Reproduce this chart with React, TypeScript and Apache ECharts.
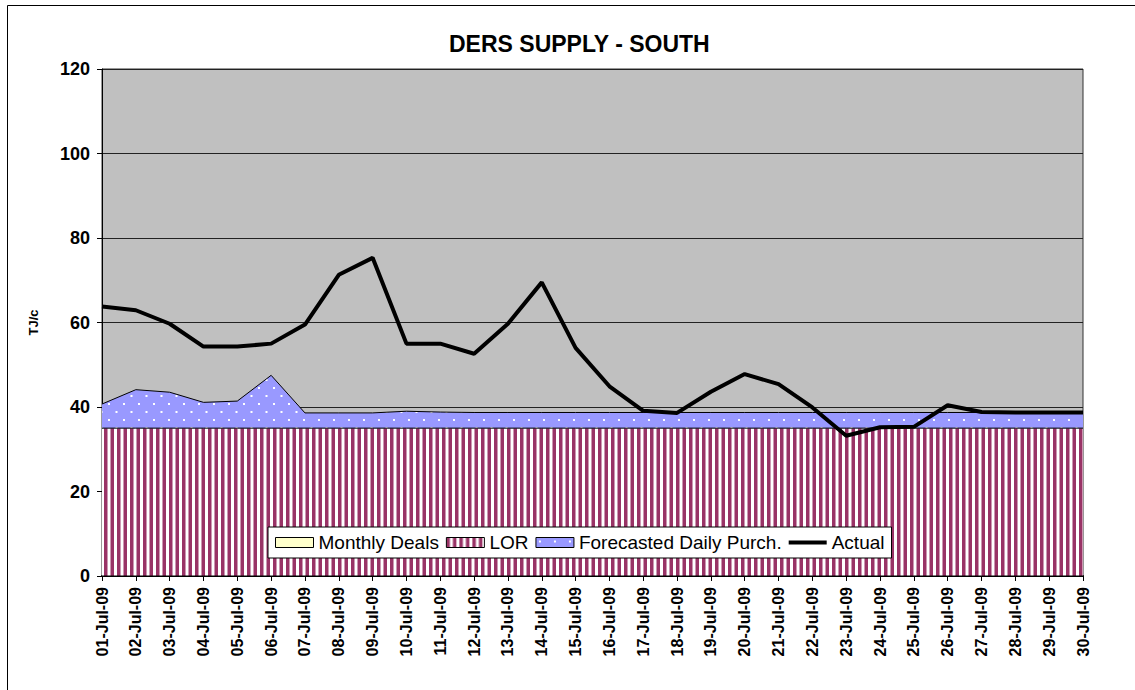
import React, { useEffect, useRef } from 'react';
import * as echarts from 'echarts';

const categories = [
  '01-Jul-09', '02-Jul-09', '03-Jul-09', '04-Jul-09', '05-Jul-09', '06-Jul-09',
  '07-Jul-09', '08-Jul-09', '09-Jul-09', '10-Jul-09', '11-Jul-09', '12-Jul-09',
  '13-Jul-09', '14-Jul-09', '15-Jul-09', '16-Jul-09', '17-Jul-09', '18-Jul-09',
  '19-Jul-09', '20-Jul-09', '21-Jul-09', '22-Jul-09', '23-Jul-09', '24-Jul-09',
  '25-Jul-09', '26-Jul-09', '27-Jul-09', '28-Jul-09', '29-Jul-09', '30-Jul-09',
];

const monthlyDeals = [0, 0, 0, 0, 0, 0, 0, 0, 0, 0, 0, 0, 0, 0, 0, 0, 0, 0, 0, 0, 0, 0, 0, 0, 0, 0, 0, 0, 0, 0];
const lor = [35, 35, 35, 35, 35, 35, 35, 35, 35, 35, 35, 35, 35, 35, 35, 35, 35, 35, 35, 35, 35, 35, 35, 35, 35, 35, 35, 35, 35, 35];
const forecasted = [5.7, 9.1, 8.5, 6.1, 6.4, 12.5, 3.6, 3.6, 3.6, 4.0, 3.8, 3.7, 3.7, 3.7, 3.7, 3.7, 3.7, 3.7, 3.7, 3.7, 3.7, 3.7, 3.7, 3.7, 3.7, 3.7, 3.7, 3.7, 3.7, 3.7];
const actual = [63.8, 62.9, 59.7, 54.3, 54.3, 55.0, 59.5, 71.3, 75.3, 55.0, 55.0, 52.6, 59.7, 69.5, 54.0, 44.9, 39.1, 38.6, 43.6, 47.8, 45.4, 39.9, 33.2, 35.2, 35.3, 40.4, 38.8, 38.7, 38.7, 38.7];

const seriesNames = ['Monthly Deals', 'LOR', 'Forecasted Daily Purch.', 'Actual'];
const yTicks = { min: 0, max: 120, interval: 20 };

const FONT = "'Liberation Sans', Arial, sans-serif";

function makeStripes() {
  const c = document.createElement('canvas');
  c.width = 13;
  c.height = 8;
  const ctx = c.getContext('2d')!;
  ctx.fillStyle = '#ffffff';
  ctx.fillRect(0, 0, 13, 8);
  ctx.fillStyle = '#993366';
  ctx.fillRect(0, 0, 3.5, 8);
  ctx.fillRect(6.5, 0, 3.5, 8);
  return { image: c, repeat: 'repeat', imageWidth: 13, imageHeight: 8 };
}

function makeDots() {
  const c = document.createElement('canvas');
  c.width = 15;
  c.height = 16;
  const ctx = c.getContext('2d')!;
  ctx.fillStyle = '#9999FF';
  ctx.fillRect(0, 0, 15, 16);
  ctx.fillStyle = '#ffffff';
  ctx.fillRect(3, 3, 2, 2);
  ctx.fillRect(10.5, 11, 2, 2);
  return { image: c, repeat: 'repeat', imageWidth: 15, imageHeight: 16 };
}

export default function App() {
  const ref = useRef<HTMLDivElement>(null);

  useEffect(() => {
    if (!ref.current) return;
    const chart = echarts.init(ref.current, null, { renderer: 'svg' });
    const stripes = makeStripes();
    const dots = makeDots();

    const option: any = {
      animation: false,
      backgroundColor: '#ffffff',
      textStyle: { fontFamily: FONT },
      title: {
        text: 'DERS SUPPLY - SOUTH',
        left: 444,
        top: 27,
        textStyle: { fontFamily: FONT, fontSize: 23, fontWeight: 'bold', color: '#000' },
      },
      graphic: [
        {
          type: 'rect',
          shape: { x: 7.5, y: 5.5, width: 1150, height: 700 },
          style: { fill: 'none', stroke: '#000', lineWidth: 1 },
          silent: true,
        },
      ],
      grid: {
        left: 102,
        right: 52,
        top: 69,
        bottom: 114,
        show: true,
        backgroundColor: '#C0C0C0',
        borderColor: '#333',
        borderWidth: 1,
      },
      legend: {
        left: 268,
        top: 527,
        padding: [6, 7, 6, 7],
        itemGap: 7,
        itemWidth: 38,
        itemHeight: 10,
        backgroundColor: '#ffffff',
        borderColor: '#000',
        borderWidth: 1,
        borderRadius: 0,
        textStyle: { fontFamily: FONT, fontSize: 19, color: '#000' },
        data: [
          { name: seriesNames[0], icon: 'rect', itemStyle: { color: '#FFFFCC', borderColor: '#000', borderWidth: 1 } },
          { name: seriesNames[1], icon: 'rect', itemStyle: { color: stripes, borderColor: '#000', borderWidth: 1 } },
          { name: seriesNames[2], icon: 'rect', itemStyle: { color: dots, borderColor: '#000', borderWidth: 1 } },
          { name: seriesNames[3], icon: 'path://M0,0 L38,0 L38,4 L0,4 Z', itemStyle: { color: '#000', borderWidth: 0 } },
        ],
      },
      xAxis: {
        type: 'category',
        data: categories,
        boundaryGap: false,
        axisLine: { show: true, lineStyle: { color: '#000', width: 2 } },
        axisTick: { show: true, length: 5, interval: 0, lineStyle: { color: '#000', width: 1 } },
        axisLabel: {
          rotate: 90,
          interval: 0,
          margin: 11,
          fontFamily: FONT,
          fontSize: 16,
          fontWeight: 'bold',
          color: '#000',
        },
        splitLine: { show: false },
      },
      yAxis: {
        type: 'value',
        min: yTicks.min,
        max: yTicks.max,
        interval: yTicks.interval,
        name: 'TJ/c',
        nameLocation: 'middle',
        nameGap: 62,
        nameTextStyle: { fontFamily: FONT, fontSize: 13, fontWeight: 'bold', color: '#000' },
        axisLine: { show: true, lineStyle: { color: '#000', width: 1 } },
        axisTick: { show: true, length: 5, lineStyle: { color: '#000', width: 1 } },
        axisLabel: { margin: 12, fontFamily: FONT, fontSize: 18, fontWeight: 'bold', color: '#000' },
        splitLine: { show: true, lineStyle: { color: '#222', width: 1 } },
      },
      series: [
        {
          name: seriesNames[0],
          type: 'line',
          stack: 'supply',
          data: monthlyDeals,
          symbol: 'none',
          itemStyle: { color: '#FFFFCC' },
          lineStyle: { color: '#000', width: 1 },
          areaStyle: { color: '#FFFFCC', opacity: 1 },
          z: 2,
        },
        {
          name: seriesNames[1],
          type: 'line',
          stack: 'supply',
          data: lor,
          symbol: 'none',
          itemStyle: { color: '#993366' },
          lineStyle: { color: '#000', width: 1 },
          areaStyle: { color: stripes, opacity: 1 },
          z: 2,
        },
        {
          name: seriesNames[2],
          type: 'line',
          stack: 'supply',
          data: forecasted,
          symbol: 'none',
          itemStyle: { color: '#9999FF' },
          lineStyle: { color: '#000', width: 1 },
          areaStyle: { color: dots, opacity: 1 },
          z: 2,
        },
        {
          name: seriesNames[3],
          type: 'line',
          data: actual,
          symbol: 'none',
          itemStyle: { color: '#000' },
          lineStyle: { color: '#000', width: 4 },
          z: 5,
        },
      ],
    };

    chart.setOption(option);
    return () => {
      chart.dispose();
    };
  }, []);

  return (
    <div
      ref={ref}
      style={{ position: 'fixed', left: 0, top: 0, width: 1135, height: 690, background: '#fff' }}
    />
  );
}
